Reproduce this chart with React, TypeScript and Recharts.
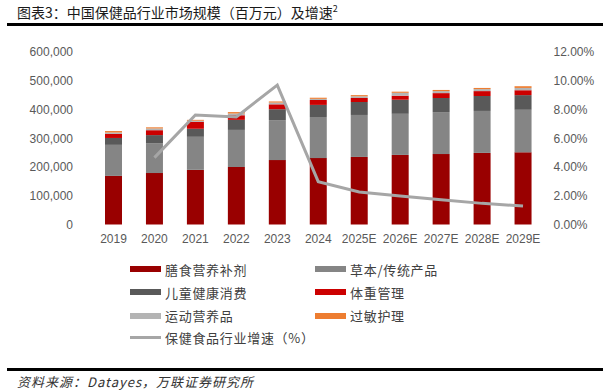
import React from "react";
import { ComposedChart, Bar, Line, XAxis, YAxis, Legend } from "recharts";

const years = ["2019", "2020", "2021", "2022", "2023", "2024", "2025E", "2026E", "2027E", "2028E", "2029E"];
const dietarySupplements = [169000, 179000, 190000, 200000, 224000, 231000, 235000, 242000, 245000, 249000, 251000];
const herbalTraditional = [108000, 104000, 115000, 129000, 139000, 143000, 146000, 143000, 146000, 146000, 148000];
const childrenHealth = [24000, 28000, 28000, 35000, 38000, 42000, 45000, 49000, 49000, 52000, 51000];
const weightManagement = [14000, 17000, 24000, 16000, 17000, 17000, 14000, 14000, 17000, 17000, 17000];
const sportsNutrition = [5000, 6000, 4000, 6000, 6000, 4000, 6000, 10000, 7000, 7000, 8000];
const allergyCare = [5000, 4000, 3000, 5000, 4000, 4000, 4000, 4000, 4000, 4000, 6000];
const growthRate: (number | null)[] = [null, 4.65, 7.62, 7.48, 9.7, 2.98, 2.26, 1.98, 1.73, 1.47, 1.29];

const leftTicks = [0, 100000, 200000, 300000, 400000, 500000, 600000];
const rightTicks = [0, 2, 4, 6, 8, 10, 12];

const seriesNames = ["膳食营养补剂", "草本/传统产品", "儿童健康消费", "体重管理", "运动营养品", "过敏护理", "保健食品行业增速（%）"];
const seriesColors = ["#990000", "#858585", "#595959", "#CC0000", "#B4B4B4", "#ED7D31", "#A6A6A6"];

const titleText = "图表3：中国保健品行业市场规模（百万元）及增速";
const sourceText = "资料来源：Datayes，万联证券研究所";

const data = years.map((y, i) => ({
  year: y,
  s0: dietarySupplements[i],
  s1: herbalTraditional[i],
  s2: childrenHealth[i],
  s3: weightManagement[i],
  s4: sportsNutrition[i],
  s5: allergyCare[i],
  growth: growthRate[i],
}));

const tickStyle = { fill: "#595959", fontSize: 12, fontFamily: "'Liberation Sans', Arial, sans-serif" };
const cjk = "'Noto Sans CJK SC', sans-serif";

const legendLayout = [
  { idx: 0, col: 0, row: 0 },
  { idx: 1, col: 1, row: 0 },
  { idx: 2, col: 0, row: 1 },
  { idx: 3, col: 1, row: 1 },
  { idx: 4, col: 0, row: 2 },
  { idx: 5, col: 1, row: 2 },
  { idx: 6, col: 0, row: 3 },
];
const rowY = [11, 34, 57.5, 79.5];
const colX = [130, 315];

const renderLegend = () => (
  <div style={{ position: "relative", width: 605, height: 92 }}>
    {legendLayout.map((it) => {
      const isLine = it.idx === 6;
      return (
        <div
          key={it.idx}
          style={{
            position: "absolute",
            left: colX[it.col],
            top: rowY[it.row] - 10,
            height: 20,
            display: "flex",
            alignItems: "center",
            whiteSpace: "nowrap",
          }}
        >
          <div
            style={{
              width: 31,
              height: isLine ? 3 : 6,
              background: seriesColors[it.idx],
              marginRight: 4,
            }}
          />
          <span style={{ fontFamily: cjk, fontSize: 13, color: "#404040", letterSpacing: 0.7 }}>
            {seriesNames[it.idx]}
          </span>
        </div>
      );
    })}
  </div>
);

export default function App() {
  return (
    <div style={{ position: "absolute", left: 0, top: 0, width: 605, height: 392, background: "#fff", overflow: "hidden" }}>
      <div style={{ position: "absolute", left: 0, top: 0 }}>
        <ComposedChart
          width={605}
          height={392}
          data={data}
          margin={{ top: 52, right: 0, left: 0, bottom: 142 }}
          barSize={17}
        >
          <XAxis
            dataKey="year"
            height={25.5}
            tickLine={false}
            axisLine={false}
            tickSize={0}
            tickMargin={10}
            interval={0}
            tick={tickStyle}
          />
          <YAxis
            yAxisId="left"
            orientation="left"
            width={93}
            domain={[0, 600000]}
            ticks={leftTicks}
            tickLine={false}
            axisLine={false}
            tickSize={0}
            tickMargin={20}
            tick={tickStyle}
            tickFormatter={(v: number) => v.toLocaleString("en-US")}
          />
          <YAxis
            yAxisId="right"
            orientation="right"
            width={61.5}
            domain={[0, 12]}
            ticks={rightTicks}
            tickLine={false}
            axisLine={false}
            tickSize={0}
            tickMargin={10}
            tick={tickStyle}
            tickFormatter={(v: number) => v.toFixed(2) + "%"}
          />
          <Legend
            layout="horizontal"
            verticalAlign="middle"
            align="center"
            content={renderLegend}
            wrapperStyle={{ top: 258, left: 0, width: 605, height: 92 }}
          />
          <Bar yAxisId="left" dataKey="s0" name={seriesNames[0]} stackId="a" fill={seriesColors[0]} isAnimationActive={false} />
          <Bar yAxisId="left" dataKey="s1" name={seriesNames[1]} stackId="a" fill={seriesColors[1]} isAnimationActive={false} />
          <Bar yAxisId="left" dataKey="s2" name={seriesNames[2]} stackId="a" fill={seriesColors[2]} isAnimationActive={false} />
          <Bar yAxisId="left" dataKey="s3" name={seriesNames[3]} stackId="a" fill={seriesColors[3]} isAnimationActive={false} />
          <Bar yAxisId="left" dataKey="s4" name={seriesNames[4]} stackId="a" fill={seriesColors[4]} isAnimationActive={false} />
          <Bar yAxisId="left" dataKey="s5" name={seriesNames[5]} stackId="a" fill={seriesColors[5]} isAnimationActive={false} />
          <Line
            yAxisId="right"
            dataKey="growth"
            name={seriesNames[6]}
            type="linear"
            stroke={seriesColors[6]}
            strokeWidth={3}
            dot={false}
            activeDot={false}
            connectNulls={false}
            isAnimationActive={false}
          />
        </ComposedChart>
      </div>
      <div
        style={{
          position: "absolute",
          left: 17,
          top: 3,
          fontFamily: cjk,
          fontSize: 14,
          lineHeight: "18px",
          color: "#1a1a1a",
          whiteSpace: "nowrap",
        }}
      >
        {titleText}
        <sup style={{ fontSize: 9, verticalAlign: "top", position: "relative", top: -3 }}>2</sup>
      </div>
      <div style={{ position: "absolute", left: 7, top: 23, width: 596, height: 3, background: "#000" }} />
      <div style={{ position: "absolute", left: 7, top: 368, width: 596, height: 3, background: "#000" }} />
      <div
        style={{
          position: "absolute",
          left: 17,
          top: 373,
          fontFamily: cjk,
          fontSize: 13,
          fontStyle: "italic",
          lineHeight: "18px",
          color: "#333",
          letterSpacing: 1,
          whiteSpace: "nowrap",
        }}
      >
        {sourceText}
      </div>
    </div>
  );
}
